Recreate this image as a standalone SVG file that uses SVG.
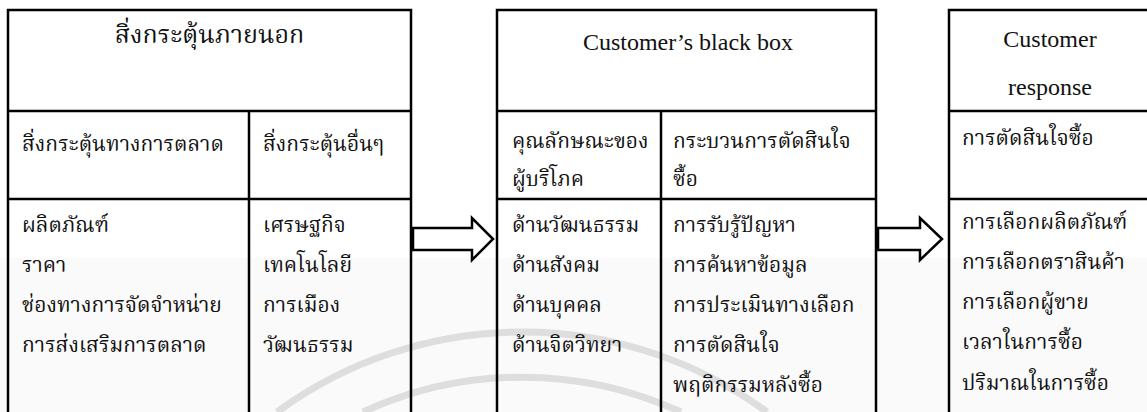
<svg xmlns="http://www.w3.org/2000/svg" width="1147" height="412" viewBox="0 0 1147 412">
<style>
.ln{stroke:#000;stroke-width:2.5;fill:none}
.th{font-family:"Noto Serif Thai","Noto Sans Thai","Loma","Garuda","Norasi","Liberation Serif",serif;font-size:21px;fill:#111}
.thh{font-family:"Noto Serif Thai","Noto Sans Thai","Loma","Garuda","Norasi","Liberation Serif",serif;font-size:25px;fill:#111}
.en{font-family:"Liberation Serif","Times New Roman",serif;font-size:24px;fill:#111}
.wm{stroke:#dedede;stroke-width:7;fill:none}
.arr{stroke:#000;stroke-width:2.5;fill:#fff;stroke-linejoin:miter}
</style>
<rect width="1147" height="412" fill="#fff"/>
<rect x="0" y="258" width="1147" height="154" fill="#fafafa"/>
<g id="watermark">
<path class="wm" d="M 277 412 A 415 415 0 0 1 767 412"/>
<path class="wm" d="M 363 412 A 380 380 0 0 1 681 412"/>
</g>
<g id="node-external">
<polyline class="ln" points="8,420 8,10 411,10 411,420"/>
<line class="ln" x1="8" y1="111" x2="411" y2="111"/>
<line class="ln" x1="8" y1="199" x2="411" y2="199"/>
<line class="ln" x1="249" y1="111" x2="249" y2="420"/>
<text class="thh" x="209.5" y="43" text-anchor="middle">สิ่งกระตุ้นภายนอก</text>
<text class="th" x="22" y="151">สิ่งกระตุ้นทางการตลาด</text>
<text class="th" x="263" y="151">สิ่งกระตุ้นอื่นๆ</text>
<text class="th" x="22" y="232">ผลิตภัณฑ์</text>
<text class="th" x="22" y="272">ราคา</text>
<text class="th" x="22" y="312">ช่องทางการจัดจำหน่าย</text>
<text class="th" x="22" y="352">การส่งเสริมการตลาด</text>
<text class="th" x="263" y="232">เศรษฐกิจ</text>
<text class="th" x="263" y="272">เทคโนโลยี</text>
<text class="th" x="263" y="312">การเมือง</text>
<text class="th" x="263" y="352">วัฒนธรรม</text>
</g>
<g id="node-blackbox">
<polyline class="ln" points="497,420 497,10 876,10 876,420"/>
<line class="ln" x1="497" y1="111" x2="876" y2="111"/>
<line class="ln" x1="497" y1="199" x2="876" y2="199"/>
<line class="ln" x1="661" y1="111" x2="661" y2="420"/>
<text class="en" x="688" y="50" text-anchor="middle">Customer’s black box</text>
<text class="th" x="512" y="148">คุณลักษณะของ</text>
<text class="th" x="512" y="186">ผู้บริโภค</text>
<text class="th" x="673" y="148">กระบวนการตัดสินใจ</text>
<text class="th" x="673" y="186">ซื้อ</text>
<text class="th" x="512" y="232">ด้านวัฒนธรรม</text>
<text class="th" x="512" y="272">ด้านสังคม</text>
<text class="th" x="512" y="312">ด้านบุคคล</text>
<text class="th" x="512" y="352">ด้านจิตวิทยา</text>
<text class="th" x="673" y="232">การรับรู้ปัญหา</text>
<text class="th" x="673" y="272">การค้นหาข้อมูล</text>
<text class="th" x="673" y="312">การประเมินทางเลือก</text>
<text class="th" x="673" y="352">การตัดสินใจ</text>
<text class="th" x="673" y="392">พฤติกรรมหลังซื้อ</text>
</g>
<g id="node-response">
<polyline class="ln" points="949,420 949,10 1150,10"/>
<line class="ln" x1="949" y1="111" x2="1150" y2="111"/>
<line class="ln" x1="949" y1="199" x2="1150" y2="199"/>
<text class="en" x="1050" y="47" text-anchor="middle">Customer</text>
<text class="en" x="1050" y="95" text-anchor="middle">response</text>
<text class="th" x="962" y="145">การตัดสินใจซื้อ</text>
<text class="th" x="962" y="229">การเลือกผลิตภัณฑ์</text>
<text class="th" x="962" y="269">การเลือกตราสินค้า</text>
<text class="th" x="962" y="309">การเลือกผู้ขาย</text>
<text class="th" x="962" y="349">เวลาในการซื้อ</text>
<text class="th" x="962" y="390">ปริมาณในการซื้อ</text>
</g>
<g id="connectors">
<polygon class="arr" points="413,228 472,228 472,218 493,239 472,260 472,250 413,250"/>
<polygon class="arr" points="878,228 920,228 920,218 942,239 920,260 920,250 878,250"/>
</g>
</svg>
